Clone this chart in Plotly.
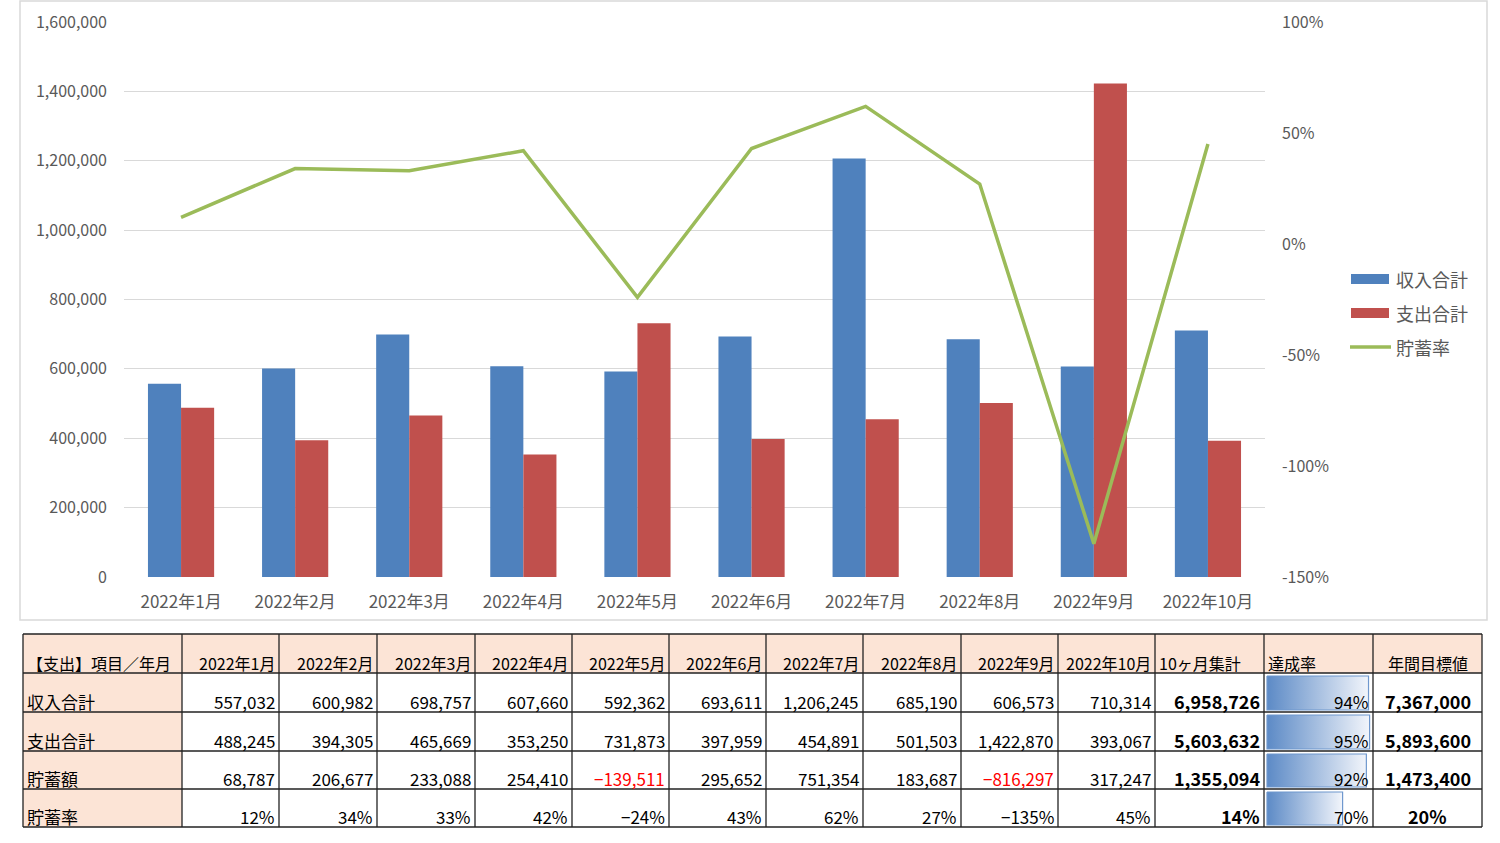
import plotly.graph_objects as go

# ---------------- data ----------------
months = ["2022年1月", "2022年2月", "2022年3月", "2022年4月", "2022年5月",
          "2022年6月", "2022年7月", "2022年8月", "2022年9月", "2022年10月"]
income = [557032, 600982, 698757, 607660, 592362, 693611, 1206245, 685190, 606573, 710314]
expense = [488245, 394305, 465669, 353250, 731873, 397959, 454891, 501503, 1422870, 393067]
savings = [68787, 206677, 233088, 254410, -139511, 295652, 751354, 183687, -816297, 317247]
rate_pct = [12, 34, 33, 42, -24, 43, 62, 27, -135, 45]

row_labels = ["収入合計", "支出合計", "貯蓄額", "貯蓄率"]
totals = [6958726, 5603632, 1355094]
total_rate_pct = 14
achieve_pct = [94, 95, 92, 70]
targets = [7367000, 5893600, 1473400]
target_rate_pct = 20

header_first = "【支出】項目／年月"
header_extra = ["10ヶ月集計", "達成率", "年間目標値"]

y_ticks = [0, 200000, 400000, 600000, 800000, 1000000, 1200000, 1400000, 1600000]
y2_ticks = [-1.5, -1.0, -0.5, 0, 0.5, 1.0]
y2_ticktext = ["-150%", "-100%", "-50%", "0%", "50%", "100%"]

# ---------------- style ----------------
W, H = 1500, 843
BLUE = "#4F81BD"
RED = "#C0504D"
GREEN = "#9BBB59"
GRID = "#D9D9D9"
TXT = "#595959"
PEACH = "#FCE4D6"
FONT = "Noto Sans CJK JP"

fig = go.Figure()

fig.add_trace(go.Bar(x=months, y=income, name="収入合計", marker_color=BLUE,
                     marker_line_width=0, xaxis="x", yaxis="y", showlegend=False))
fig.add_trace(go.Bar(x=months, y=expense, name="支出合計", marker_color=RED,
                     marker_line_width=0, xaxis="x", yaxis="y", showlegend=False))
fig.add_trace(go.Scatter(x=months, y=[r / 100 for r in rate_pct], name="貯蓄率",
                         mode="lines", line=dict(color=GREEN, width=3.5),
                         xaxis="x", yaxis="y2", showlegend=False))

shapes = []
annotations = []

# chart outer border
shapes.append(dict(type="rect", xref="x3", yref="y3", x0=20, x1=1487, y0=1, y1=620,
                   line=dict(color=GRID, width=1.5), fillcolor="rgba(0,0,0,0)", layer="below"))

# custom legend
leg_items = [("収入合計", BLUE, "bar", 279), ("支出合計", RED, "bar", 313), ("貯蓄率", GREEN, "line", 347)]
for name, col, kind, yc in leg_items:
    if kind == "bar":
        shapes.append(dict(type="rect", xref="x3", yref="y3", x0=1351, x1=1389, y0=yc - 5, y1=yc + 5,
                           fillcolor=col, line=dict(width=0), layer="above"))
    else:
        shapes.append(dict(type="line", xref="x3", yref="y3", x0=1350, x1=1391, y0=yc, y1=yc,
                           line=dict(color=col, width=3.5), layer="above"))
    annotations.append(dict(xref="x3", yref="y3", x=1394, y=yc, text=name, showarrow=False,
                            xanchor="left", yanchor="middle", font=dict(family=FONT, size=18, color=TXT)))

# ---------------- table ----------------
col_edges = [23, 182, 279, 377, 475, 572, 669, 766, 863, 961, 1058, 1155, 1264, 1373, 1482]
row_edges = [634, 673, 712, 751, 789, 827]


def fmt_num(v):
    s = f"{abs(v):,}"
    return ("−" + s) if v < 0 else s


def fmt_pct(v):
    return ("−" + f"{abs(v)}%") if v < 0 else f"{v}%"


for ri in range(5):
    for ci in range(14):
        fill = PEACH if (ri == 0 or ci == 0) else "white"
        shapes.append(dict(type="rect", xref="x3", yref="y3",
                           x0=col_edges[ci], x1=col_edges[ci + 1],
                           y0=row_edges[ri], y1=row_edges[ri + 1],
                           fillcolor=fill, line=dict(width=0), layer="below"))
for xe in col_edges:
    shapes.append(dict(type="line", xref="x3", yref="y3", x0=xe, x1=xe, y0=row_edges[0], y1=row_edges[-1],
                       line=dict(color="#222222", width=1.3), layer="above"))
for ye in row_edges:
    shapes.append(dict(type="line", xref="x3", yref="y3", x0=col_edges[0], x1=col_edges[-1], y0=ye, y1=ye,
                       line=dict(color="#222222", width=1.3), layer="above"))


def cell_text(ri, ci, text, align="right", bold=False, color="black", size=17):
    x0, x1 = col_edges[ci], col_edges[ci + 1]
    if align == "right":
        x, xa = x1 - 2, "right"
    elif align == "left":
        x, xa = x0 + 2, "left"
    else:
        x, xa = (x0 + x1) / 2, "center"
    t = f"<b>{text}</b>" if bold else text
    annotations.append(dict(xref="x3", yref="y3", x=x, y=row_edges[ri + 1] + 4, text=t,
                            showarrow=False, xanchor=xa, yanchor="bottom",
                            font=dict(family=FONT, size=size, color=color)))


cell_text(0, 0, header_first, align="left", size=16)
for i, m in enumerate(months):
    cell_text(0, i + 1, m, align="right", size=16)
cell_text(0, 11, header_extra[0], align="left", size=16)
cell_text(0, 12, header_extra[1], align="left", size=16)
cell_text(0, 13, header_extra[2], align="center", size=16)

series_rows = [income, expense, savings]
for r, name in enumerate(row_labels):
    ri = r + 1
    cell_text(ri, 0, name, align="left")
    if r < 3:
        for i, v in enumerate(series_rows[r]):
            cell_text(ri, i + 1, fmt_num(v), color="#FF0000" if v < 0 else "black")
        cell_text(ri, 11, fmt_num(totals[r]), bold=True, size=18)
        cell_text(ri, 13, fmt_num(targets[r]), align="center", bold=True, size=18)
    else:
        for i, v in enumerate(rate_pct):
            cell_text(ri, i + 1, fmt_pct(v))
        cell_text(ri, 11, fmt_pct(total_rate_pct), bold=True, size=18)
        cell_text(ri, 13, fmt_pct(target_rate_pct), align="center", bold=True, size=18)
    cell_text(ri, 12, fmt_pct(achieve_pct[r]))

c0, c1 = col_edges[12], col_edges[13]
bar_full = (c1 - c0) - 1
for r, p in enumerate(achieve_pct):
    ri = r + 1
    bx0 = c0 + 3
    bx1 = bx0 + p / 100 * bar_full
    by0 = row_edges[ri] + 3
    by1 = row_edges[ri + 1] - 2
    fig.add_trace(go.Scatter(
        x=[bx0, bx1, bx1, bx0, bx0], y=[by0, by0, by1, by1, by0],
        mode="lines", fill="toself",
        fillgradient=dict(type="horizontal", colorscale=[[0, "#5C8AC6"], [1, "#F2F5FB"]]),
        line=dict(color="#6F98CE", width=1.2),
        xaxis="x3", yaxis="y3", hoverinfo="skip", showlegend=False))

fig.update_layout(
    width=W, height=H, autosize=False,
    margin=dict(l=0, r=0, t=0, b=0, pad=0, autoexpand=False),
    paper_bgcolor="white", plot_bgcolor="rgba(0,0,0,0)",
    bargap=0.42, bargroupgap=0, barmode="group",
    font=dict(family=FONT, color=TXT),
    xaxis=dict(domain=[124 / W, 1265 / W], anchor="y", showgrid=False, zeroline=False,
               showline=False, ticks="", tickfont=dict(family=FONT, size=17, color=TXT),
               ticklabelstandoff=13, automargin=False),
    yaxis=dict(domain=[1 - 577 / H, 1 - 22 / H], range=[0, 1600000], tickvals=y_ticks,
               tickformat=",", showgrid=True, gridcolor=GRID, gridwidth=1, zeroline=False,
               showline=False, ticks="", tickfont=dict(family=FONT, size=16, color=TXT),
               ticklabelstandoff=16, automargin=False),
    yaxis2=dict(overlaying="y", side="right", anchor="x", range=[-1.5, 1.0], tickvals=y2_ticks,
                ticktext=y2_ticktext, showgrid=False, zeroline=False, showline=False, ticks="",
                tickfont=dict(family=FONT, size=16, color=TXT), ticklabelstandoff=16,
                automargin=False),
    xaxis3=dict(domain=[0, 1], range=[0, W], anchor="y3", visible=False, fixedrange=True,
                automargin=False),
    yaxis3=dict(domain=[0, 1], range=[H, 0], anchor="x3", visible=False, fixedrange=True,
                automargin=False),
    shapes=shapes, annotations=annotations,
    showlegend=False,
)

fig.write_html(
    "out.html",
    config={"displayModeBar": False},
    post_script=(
        "document.documentElement.style.margin='0';"
        "document.body.style.margin='0';document.body.style.overflow='hidden';"
        "var d=document.getElementById('{plot_id}');"
        "d.style.position='fixed';d.style.top='0px';d.style.left='0px';"
    ),
)
